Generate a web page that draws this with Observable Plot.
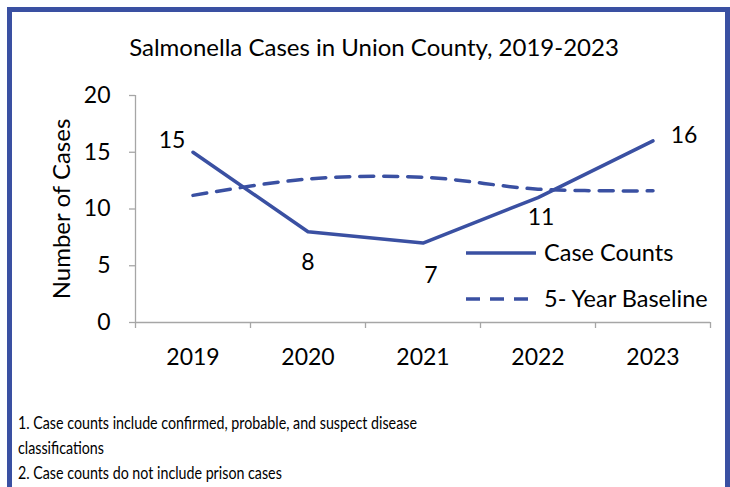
<!DOCTYPE html>
<html>
<head>
<meta charset="utf-8">
<script src="https://cdn.jsdelivr.net/npm/d3@7"></script>
<script src="https://cdn.jsdelivr.net/npm/@observablehq/plot@0.6"></script>
<style>
  body { margin: 0; background: #fff; }
  #wrap { position: relative; width: 730px; height: 487px; overflow: hidden; background: #fff; font-family: Lato, "Open Sans", sans-serif; color: #000; }
  #frame { position: absolute; left: 7px; top: 7px; width: 713px; height: 500px; border-left: 5px solid #3a50a2; border-top: 5px solid #3a50a2; border-right: 5px solid #3a50a2; }
  #title { position: absolute; left: 0; width: 748px; top: 32px; text-align: center; font-size: 24px; line-height: 30px; }
  #chart { position: absolute; left: 0; top: 0; }
  #legend { position: absolute; left: 460px; top: 236px; }
  .foot { position: absolute; left: 18px; font-size: 17.5px; line-height: 22px; white-space: nowrap; transform: scaleX(0.814); transform-origin: 0 50%; }
</style>
</head>
<body>
<div id="wrap">
  <div id="frame"></div>
  <div id="chart"></div>
  <div id="title">Salmonella Cases in Union County, 2019-2023</div>
  <div id="legend"></div>
  <div class="foot" style="top:412px">1. Case counts include confirmed, probable, and suspect disease</div>
  <div class="foot" style="top:437px">classifications</div>
  <div class="foot" style="top:462px">2. Case counts do not include prison cases</div>
</div>
<script>
const years = ["2019", "2020", "2021", "2022", "2023"];
const caseCounts = [15, 8, 7, 11, 16];
const baseline = [11.2, 12.65, 12.8, 11.75, 11.6];
const labelPlacement = ["above-left", "below", "below-right", "below-near", "right"];
const yTicks = [0, 5, 10, 15, 20];
const seriesNames = ["Case Counts", "5- Year Baseline"];

const blue = "#3a50a2";
const gray = "#a6a6a6";
const offsets = {
  "above-left": [-21, -12],
  "below": [0, 31],
  "below-right": [8, 33],
  "below-near": [3, 20],
  "right": [31, -5]
};

const caseData = years.map((y, i) => ({i: i + 0.5, year: y, v: caseCounts[i], place: labelPlacement[i]}));
const baseData = years.map((y, i) => ({i: i + 0.5, year: y, v: baseline[i]}));

const font = "Lato, 'Open Sans', sans-serif";

const labelMarks = Object.keys(offsets).map(place =>
  Plot.text(caseData.filter(d => d.place === place), {
    x: "i", y: "v", text: d => String(d.v),
    dx: offsets[place][0], dy: offsets[place][1], fontSize: 23, fill: "#000"
  })
);

const chart = Plot.plot({
  width: 730,
  height: 487,
  marginLeft: 135,
  marginRight: 20,
  marginTop: 95,
  marginBottom: 165,
  style: {fontFamily: font, fontSize: "23px", background: "transparent", color: "#000"},
  x: {domain: [0, years.length], axis: null},
  y: {domain: [0, 20], axis: null},
  marks: [
    Plot.ruleX([0], {stroke: gray, strokeWidth: 1.3}),
    Plot.ruleY([0], {stroke: gray, strokeWidth: 1.3}),
    Plot.axisY({ticks: yTicks, tickSize: 6, tickPadding: 19, stroke: gray, strokeWidth: 1.3, fontSize: 23, label: null, fill: "#000"}),
    Plot.axisX({ticks: d3.range(years.length + 1), tickSize: 6, tickFormat: () => "", stroke: gray, strokeWidth: 1.3, label: null}),
    Plot.text(caseData, {x: "i", y: 0, text: "year", dy: 35, fontSize: 23, fill: "#000"}),
    Plot.text(["Number of Cases"], {frameAnchor: "left", textAnchor: "middle", dx: -73, rotate: -90, fontSize: 24, fill: "#000"}),
    Plot.line(baseData, {x: "i", y: "v", stroke: blue, strokeWidth: 3.5, strokeDasharray: "14,10", curve: "catmull-rom"}),
    Plot.line(caseData, {x: "i", y: "v", stroke: blue, strokeWidth: 3.5, strokeLinejoin: "round"}),
    ...labelMarks
  ]
});
document.getElementById("chart").appendChild(chart);

// legend
const leg = d3.select("#legend").append("svg").attr("width", 270).attr("height", 80)
  .style("font-family", font).style("font-size", "23.5px");
seriesNames.forEach((name, k) => {
  const g = leg.append("g").attr("transform", `translate(0, ${17 + k * 46})`);
  g.append("line").attr("x1", 6).attr("x2", 76).attr("y1", 0).attr("y2", 0)
    .attr("stroke", blue).attr("stroke-width", 3.5)
    .attr("stroke-dasharray", k === 1 ? "14,10" : null);
  g.append("text").attr("x", 84).attr("y", 0).attr("dy", "0.35em").text(name);
});
</script>
</body>
</html>
